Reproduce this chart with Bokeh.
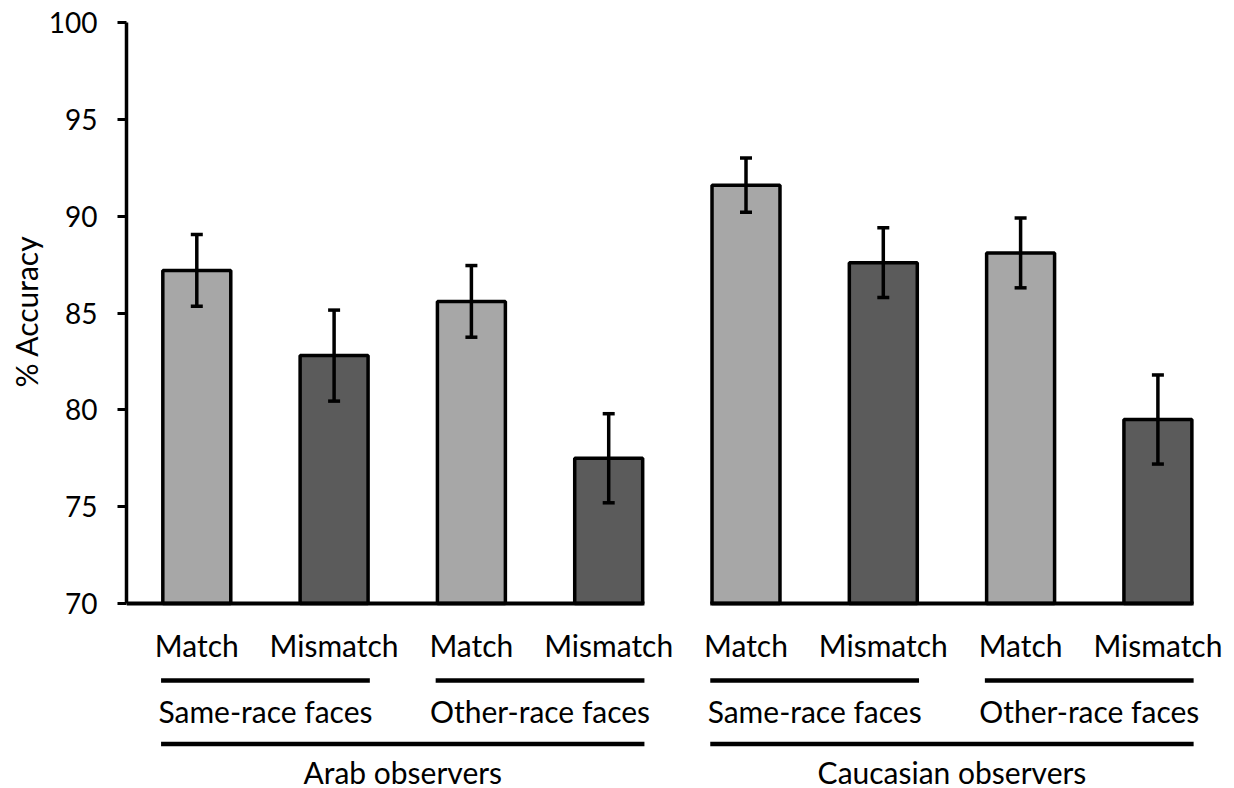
import numpy as np
from bokeh.plotting import figure
from bokeh.models import (ColumnDataSource, Range1d, FixedTicker, Whisker, TeeHead, Title)
from bokeh.core.properties import value
from bokeh.embed import file_html
from bokeh.resources import INLINE

# ---- data -------------------------------------------------------------
observers = ["Arab observers", "Caucasian observers"]
face_groups = ["Same-race faces", "Other-race faces"]
conditions = ["Match", "Mismatch"]
accuracy = [87.2, 82.8, 85.6, 77.5, 91.6, 87.6, 88.1, 79.5]
sem = [1.85, 2.35, 1.85, 2.3, 1.4, 1.8, 1.8, 2.3]
y_ticks = [70, 75, 80, 85, 90, 95, 100]

# ---- layout constants (pixels) ----------------------------------------
W, H = 1234, 788
left_px, top_px, axis_px = 126, 22, 603      # frame left, y=100 row, y=70 row
first_center_px, step_px = 196.3, 137.3     # bar spacing on screen
bar_width = 0.495
LIGHT, DARK = "#a7a7a7", "#5b5b5b"
FONT = "Lato"
FS = "30px"
TICK_FS = "28px"

ppu = (axis_px - top_px) / (y_ticks[-1] - y_ticks[0])
y_start = y_ticks[0] - (H - axis_px) / ppu
x_start = -(first_center_px - left_px) / step_px
x_end = (W - first_center_px) / step_px


def below_axis(px):
    """Data y for a point `px` pixels below the 70 % baseline."""
    return y_ticks[0] - px / ppu


n = len(accuracy)
x = np.arange(n, dtype=float)
cond = [conditions[i % 2] for i in range(n)]
colors = [LIGHT if c == "Match" else DARK for c in cond]
acc = np.array(accuracy)
err = np.array(sem)

src = ColumnDataSource(dict(x=x, top=acc, upper=acc + err, lower=acc - err,
                            color=colors, cond=cond))

p = figure(width=W, height=H, output_backend="svg", toolbar_location=None,
           x_range=Range1d(x_start, x_end), y_range=Range1d(y_start, y_ticks[-1]),
           x_axis_location=None, min_border_left=left_px, min_border_right=0,
           min_border_top=top_px, min_border_bottom=0)
p.outline_line_color = None
p.xgrid.visible = False
p.ygrid.visible = False
p.background_fill_color = "white"
p.border_fill_color = "white"

# y axis
ax = p.yaxis[0]
ax.bounds = (y_ticks[0], y_ticks[-1])
ax.ticker = FixedTicker(ticks=y_ticks)
ax.axis_line_width = 3.5
ax.axis_line_color = "black"
ax.major_tick_line_width = 3
ax.major_tick_line_color = "black"
ax.major_tick_out = 9
ax.major_tick_in = 0
ax.minor_tick_line_color = None
ax.major_label_standoff = 20
ax.major_label_text_font = FONT
ax.major_label_text_font_size = TICK_FS
ax.major_label_text_color = "black"

# y axis title, placed so that it sits centred on the 70-100 span
title_bottom_px = 387
p.add_layout(Title(text="% Accuracy", align="left", offset=H - title_bottom_px,
                   text_font=FONT, text_font_size=FS, text_font_style="normal",
                   text_color="black", standoff=4), "left")

# bars
p.vbar(x="x", top="top", bottom=y_ticks[0], width=bar_width, fill_color="color",
       line_color="black", line_width=3.5, source=src)

# error bars, drawn over the bars
p.add_layout(Whisker(source=src, base="x", upper="upper", lower="lower",
                     level="overlay", line_width=3.5, line_color="black",
                     upper_head=TeeHead(size=12, line_width=3.5, line_color="black"),
                     lower_head=TeeHead(size=12, line_width=3.5, line_color="black")))

# broken x baseline: one piece per observer group
half = bar_width / 2 + 1.75 / step_px
base_x0 = [x_start, x[4] - half]
base_x1 = [x[3] + half, x[7] + half]
p.segment(x0=base_x0, y0=[y_ticks[0]] * 2, x1=base_x1, y1=[y_ticks[0]] * 2,
          line_color="black", line_width=4, line_cap="butt")

# condition labels
p.text(x=x, y=[below_axis(41)] * n, text=cond, text_align="center",
       text_baseline="alphabetic", text_font=value(FONT), text_font_size=FS,
       text_color="black")

# face group labels with underline
gx0, gx1, gmid, glab = [], [], [], []
for g in range(4):
    a, b = x[2 * g], x[2 * g + 1]
    gx0.append(a - half)
    gx1.append(b + half)
    gmid.append((a + b) / 2)
    glab.append(face_groups[g % 2])
p.segment(x0=gx0, y0=[below_axis(77)] * 4, x1=gx1, y1=[below_axis(77)] * 4,
          line_color="black", line_width=4.5, line_cap="butt")
p.text(x=gmid, y=[below_axis(107)] * 4, text=glab, text_align="center",
       text_baseline="alphabetic", text_font=value(FONT), text_font_size=FS,
       text_color="black")

# observer group labels with underline
ox0, ox1, omid = [], [], []
for o in range(2):
    a, b = x[4 * o], x[4 * o + 3]
    ox0.append(a - half)
    ox1.append(b + half)
    omid.append((a + b) / 2)
p.segment(x0=ox0, y0=[below_axis(140.5)] * 2, x1=ox1, y1=[below_axis(140.5)] * 2,
          line_color="black", line_width=4.5, line_cap="butt")
p.text(x=omid, y=[below_axis(168)] * 2, text=observers, text_align="center",
       text_baseline="alphabetic", text_font=value(FONT), text_font_size=FS,
       text_color="black")

open("out.html", "w").write(file_html(p, INLINE))
